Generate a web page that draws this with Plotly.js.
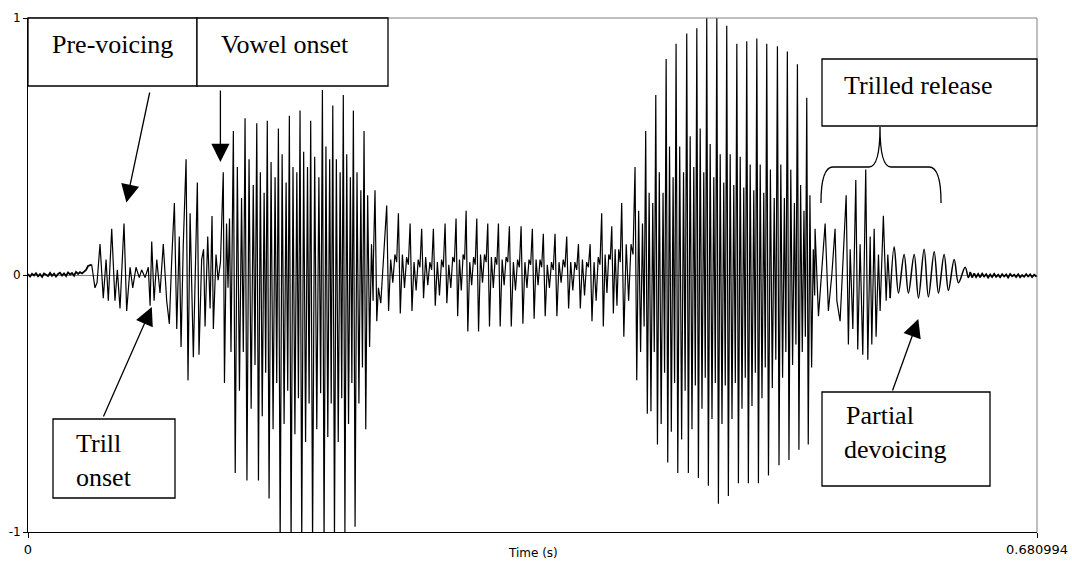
<!DOCTYPE html>
<html><head><meta charset="utf-8">
<script src="https://cdn.plot.ly/plotly-3.0.1.min.js"></script>
<style>html,body{margin:0;padding:0;background:#fff}#chart{width:1072px;height:563px}</style>
</head><body><div id="chart"></div>
<script>
// ---------- data (time in s, amplitude normalised) ----------
const xTickVals = [0, 0.680994];
const xTickText = ['0', '0.680994'];
const yTickVals = [-1, 0, 1];
const yTickText = ['-1', '0', '1'];

const noiseStartT = [0, 0.0014, 0.0027, 0.0041, 0.0054, 0.0068, 0.0081, 0.0095, 0.0108, 0.0122, 0.0135, 0.0149, 0.0162, 0.0176, 0.0189, 0.0203, 0.0216, 0.0230, 0.0243, 0.0257, 0.0270, 0.0284, 0.0297, 0.0311, 0.0324, 0.0338, 0.0351, 0.0365, 0.0378, 0.0392, 0.0405];
const noiseStartV = [0.004, -0.006, 0.005, -0.002, 0.007, -0.005, 0.003, -0.007, 0.006, 0.000, -0.004, 0.008, -0.003, 0.005, -0.006, 0.004, 0.009, -0.002, 0.006, -0.004, 0.010, 0.002, 0.008, -0.003, 0.012, 0.004, 0.011, 0.006, 0.014, 0.020, 0.035];

const onsetT = [0.0430, 0.0439, 0.0452, 0.0466, 0.0486, 0.0508, 0.0527, 0.0542, 0.0565, 0.0587, 0.0603, 0.0621, 0.0648, 0.0666, 0.0689, 0.0707, 0.0729, 0.0751, 0.0767, 0.0790, 0.0812, 0.0824, 0.0835, 0.0851, 0.0869, 0.0891, 0.0913, 0.0936, 0.0954, 0.0970, 0.0988, 0.1004, 0.1021, 0.1033, 0.1048, 0.1067, 0.1080, 0.1094, 0.1116, 0.1143, 0.1154, 0.1172, 0.1185, 0.1195, 0.1213, 0.1229, 0.1242, 0.1251, 0.1269, 0.1283, 0.1299, 0.1318, 0.1326, 0.1340, 0.1350, 0.1360, 0.1370];
const onsetV = [0.04, 0.00, -0.05, -0.03, 0.12, -0.09, 0.06, -0.10, 0.18, -0.10, 0.02, -0.13, 0.20, -0.14, 0.03, -0.05, 0.03, -0.01, 0.02, -0.01, 0.03, -0.12, 0.13, -0.10, 0.06, -0.07, 0.12, -0.10, -0.19, 0.06, 0.28, -0.21, 0.15, -0.28, 0.12, 0.45, -0.41, 0.24, -0.32, 0.36, -0.31, 0.06, 0.10, -0.20, 0.15, -0.13, 0.23, -0.21, 0.08, -0.02, 0.05, 0.40, -0.42, 0.20, -0.05, 0.22, -0.30];

// first vowel: one entry per glottal cycle
const vowel1T        = [0.1386, 0.1465, 0.1544, 0.1615, 0.1690, 0.1764, 0.1836, 0.1908, 0.1987, 0.2057, 0.2128, 0.2196, 0.2268];
const vowel1Peak     = [0.56, 0.61, 0.59, 0.60, 0.57, 0.62, 0.64, 0.60, 0.72, 0.66, 0.70, 0.64, 0.56];
const vowel1Trough   = [-0.77, -0.80, -0.80, -0.87, -1.05, -1.05, -1.05, -1.05, -1.05, -1.03, -1.00, -0.98, -0.60];
const vowel1SecPeak  = [0.42, 0.45, 0.40, 0.44, 0.47, 0.42, 0.48, 0.46, 0.50, 0.45, 0.47, 0.40, 0.31];
const vowel1SecTrough= [-0.45, -0.52, -0.55, -0.60, -0.58, -0.62, -0.65, -0.60, -0.63, -0.65, -0.58, -0.50, -0.28];
const vowel1TerPeak  = [0.30, 0.35, 0.32, 0.38, 0.36, 0.40, 0.42, 0.38, 0.45, 0.40, 0.38, 0.33, 0.12];
const vowel1TerTrough= [-0.30, -0.35, -0.38, -0.42, -0.45, -0.48, -0.50, -0.46, -0.50, -0.48, -0.42, -0.36, -0.10];

const transT = [0.2331, 0.2342, 0.2354, 0.2365, 0.2381, 0.2398];
const transV = [0.05, 0.33, -0.18, -0.05, -0.11, 0.05];

// middle trill + second vowel, one entry per cycle
const midT = [0.2421, 0.2500, 0.2579, 0.2657, 0.2736, 0.2815, 0.2889, 0.2957, 0.3029, 0.3103, 0.3175, 0.3249, 0.3328, 0.3404, 0.3478, 0.3557, 0.3636, 0.3715, 0.3794, 0.3872, 0.3940, 0.4007, 0.4097, 0.4169, 0.4237, 0.4307, 0.4374, 0.4446, 0.4514, 0.4581, 0.4649, 0.4716, 0.4784, 0.4851, 0.4919, 0.4986, 0.5058, 0.5125, 0.5193, 0.5256];
const midPeak = [0.27, 0.24, 0.20, 0.18, 0.18, 0.20, 0.22, 0.25, 0.22, 0.20, 0.20, 0.19, 0.19, 0.18, 0.16, 0.16, 0.15, 0.12, 0.12, 0.24, 0.19, 0.28, 0.42, 0.56, 0.70, 0.84, 0.90, 0.94, 0.96, 1.00, 1.00, 0.97, 0.90, 0.91, 0.92, 0.90, 0.89, 0.87, 0.82, 0.69];
const midTrough = [-0.14, -0.15, -0.14, -0.09, -0.12, -0.11, -0.16, -0.22, -0.22, -0.20, -0.20, -0.20, -0.19, -0.17, -0.16, -0.16, -0.13, -0.13, -0.18, -0.20, -0.15, -0.24, -0.41, -0.54, -0.66, -0.73, -0.77, -0.77, -0.79, -0.82, -0.89, -0.86, -0.81, -0.81, -0.81, -0.78, -0.74, -0.72, -0.68, -0.66];
const midSecPeak = [0.06, 0.08, 0.05, 0.07, 0.05, 0.04, 0.06, 0.05, 0.08, 0.07, 0.06, 0.05, 0.05, 0.06, 0.04, 0.05, 0.05, 0.06, 0.05, 0.08, 0.10, 0.12, 0.25, 0.32, 0.40, 0.50, 0.50, 0.54, 0.57, 0.51, 0.47, 0.47, 0.46, 0.43, 0.43, 0.41, 0.43, 0.41, 0.35, 0.31];
const midSecTrough = [-0.03, -0.05, -0.06, -0.04, -0.08, -0.05, -0.06, -0.04, -0.03, -0.05, -0.04, -0.06, -0.05, -0.04, -0.05, -0.03, -0.06, -0.08, -0.10, -0.07, -0.12, -0.10, -0.30, -0.53, -0.58, -0.61, -0.64, -0.60, -0.52, -0.56, -0.58, -0.56, -0.52, -0.51, -0.48, -0.44, -0.40, -0.35, -0.30, -0.36];
const midTerPeak = [0.08, 0.07, 0.06, 0.05, 0.06, 0.07, 0.08, 0.07, 0.08, 0.07, 0.07, 0.06, 0.06, 0.06, 0.05, 0.06, 0.05, 0.05, 0.07, 0.08, 0.10, 0.12, 0.20, 0.28, 0.32, 0.38, 0.40, 0.42, 0.40, 0.38, 0.36, 0.35, 0.34, 0.33, 0.32, 0.30, 0.30, 0.28, 0.25, 0.10];
const midTerTrough = [0.05, 0.04, 0.03, 0.02, 0.03, 0.05, 0.06, 0.04, 0.05, 0.04, 0.05, 0.03, 0.04, 0.03, 0.02, 0.03, 0.02, 0.03, 0.04, 0.06, 0.05, 0.08, -0.20, -0.30, -0.38, -0.42, -0.45, -0.43, -0.40, -0.42, -0.43, -0.42, -0.40, -0.38, -0.36, -0.33, -0.30, -0.27, -0.24, -0.08];

const releaseT = [0.5312, 0.5335, 0.5357, 0.5380, 0.5402, 0.5425, 0.5447, 0.5459, 0.5481, 0.5503, 0.5522, 0.5537, 0.5549, 0.5567, 0.5587, 0.5600, 0.5616, 0.5634, 0.5654, 0.5668, 0.5684, 0.5695, 0.5711, 0.5724, 0.5740, 0.5751, 0.5773, 0.5792, 0.5803, 0.5819];
const releaseV = [0.18, -0.16, 0.01, 0.20, -0.14, 0.00, 0.18, -0.10, -0.18, 0.11, 0.31, -0.27, 0.10, -0.21, 0.37, -0.29, 0.12, -0.31, 0.41, -0.33, 0.15, -0.27, 0.18, -0.24, 0.08, -0.14, 0.23, -0.10, 0.08, -0.09];

const decayT = [0.5846, 0.5875, 0.5913, 0.5942, 0.5981, 0.6010, 0.6048, 0.6077, 0.6116, 0.6145, 0.6183, 0.6212, 0.6251, 0.6280, 0.6325, 0.6347];
const decayV = [0.11, -0.07, 0.08, -0.07, 0.08, -0.09, 0.10, -0.085, 0.09, -0.07, 0.08, -0.06, 0.06, -0.03, 0.03, -0.01];

const noiseEndT = [0.6359, 0.6372, 0.6386, 0.6399, 0.6413, 0.6426, 0.6440, 0.6453, 0.6467, 0.6480, 0.6494, 0.6507, 0.6521, 0.6534, 0.6548, 0.6561, 0.6575, 0.6588, 0.6602, 0.6615, 0.6629, 0.6642, 0.6656, 0.6669, 0.6683, 0.6696, 0.6710, 0.6723, 0.6737, 0.6750, 0.6764, 0.6777, 0.6791, 0.6804, 0.6810];
const noiseEndV = [0.012, -0.010, 0.006, -0.008, 0.004, -0.009, 0.005, -0.006, 0.003, -0.010, 0.002, -0.008, 0.004, -0.007, 0.001, -0.009, 0.003, -0.006, 0.002, -0.010, 0.004, -0.005, 0.001, -0.008, 0.003, -0.009, 0.000, -0.007, 0.003, -0.006, 0.002, -0.008, 0.001, -0.005, -0.002];

// ---------- build line ----------
const CYCLE_FRAC = [0, 0.16, 0.34, 0.52, 0.70, 0.85];
function addPairs(X, Y, t, v) { for (let i = 0; i < t.length; i++) { X.push(t[i]); Y.push(v[i]); } }
function addCycles(X, Y, t, series) {
  for (let i = 0; i < t.length; i++) {
    const P = i < t.length - 1 ? t[i + 1] - t[i] : t[i] - t[i - 1];
    for (let k = 0; k < series.length; k++) { X.push(t[i] + CYCLE_FRAC[k] * P); Y.push(series[k][i]); }
  }
}
const X = [], Y = [];
addPairs(X, Y, onsetT, onsetV);
addCycles(X, Y, vowel1T, [vowel1Peak, vowel1Trough, vowel1SecPeak, vowel1SecTrough, vowel1TerPeak, vowel1TerTrough]);
addPairs(X, Y, transT, transV);
addCycles(X, Y, midT, [midPeak, midTrough, midSecPeak, midSecTrough, midTerPeak, midTerTrough]);
addPairs(X, Y, releaseT, releaseV);

const NX = noiseStartT.slice(), NY = noiseStartV.slice();
NX.push(onsetT[0]); NY.push(onsetV[0]);

const DX = [releaseT[releaseT.length - 1]], DY = [releaseV[releaseV.length - 1]];
addPairs(DX, DY, decayT, decayV);
DX.push(noiseEndT[0]); DY.push(noiseEndV[0]);

const traces = [
  {x: NX, y: NY, type: 'scatter', mode: 'lines', line: {color: '#000', width: 1.8}, hoverinfo: 'skip'},
  {x: X, y: Y, type: 'scatter', mode: 'lines', line: {color: '#000', width: 1.2}, hoverinfo: 'skip'},
  {x: DX, y: DY, type: 'scatter', mode: 'lines', line: {color: '#000', width: 1.5, shape: 'spline', smoothing: 1}, hoverinfo: 'skip'},
  {x: noiseEndT, y: noiseEndV, type: 'scatter', mode: 'lines', line: {color: '#000', width: 1.8}, hoverinfo: 'skip'}
];

// ---------- layout helpers (pixel -> paper) ----------
const L = 28, R = 1037, T = 18, B = 532;
const px = v => (v - L) / (R - L);
const py = v => (B - v) / (B - T);
const serif = {family: 'Liberation Serif, Times New Roman, serif', size: 26, color: '#000'};

function box(x0, y0, x1, y1) {
  return {type: 'rect', xref: 'paper', yref: 'paper', x0: px(x0), x1: px(x1), y0: py(y1), y1: py(y0),
    line: {color: '#000', width: 1.3}, fillcolor: '#fff', layer: 'above'};
}
function label(text, x, y, anchor) {
  return {text: text, xref: 'paper', yref: 'paper', x: px(x), y: py(y), xanchor: anchor || 'left', yanchor: 'middle',
    showarrow: false, font: serif};
}
function arrow(tailX, tailY, tipX, tipY) {
  return {text: '', xref: 'paper', yref: 'paper', x: px(tipX), y: py(tipY), ax: tailX - tipX, ay: tailY - tipY,
    axref: 'pixel', ayref: 'pixel', showarrow: true, arrowhead: 2, arrowsize: 2.8, arrowwidth: 1.3, arrowcolor: '#000', standoff: 0};
}
const Pp = (x, y) => px(x).toFixed(4) + ',' + py(y).toFixed(4);
const bracePath = 'M' + Pp(821, 203) + ' Q' + Pp(821, 167) + ' ' + Pp(833, 167) + ' L' + Pp(869, 167) +
  ' Q' + Pp(880, 167) + ' ' + Pp(880, 127) + ' Q' + Pp(880, 167) + ' ' + Pp(891, 167) + ' L' + Pp(929, 167) +
  ' Q' + Pp(941, 167) + ' ' + Pp(941, 203);

const layout = {
  width: 1072, height: 563,
  margin: {l: L, r: 1072 - R, t: T, b: 563 - B, pad: 0},
  paper_bgcolor: '#fff', plot_bgcolor: '#fff',
  showlegend: false,
  xaxis: {range: [0, 0.680994], tickvals: xTickVals, ticktext: xTickText, showgrid: false, zeroline: false,
    showline: true, linecolor: '#000', linewidth: 1, ticks: 'outside', ticklen: 5, tickcolor: '#000',
    tickfont: {family: 'DejaVu Sans, Arial, sans-serif', size: 13, color: '#000'}, automargin: false},
  yaxis: {range: [-1, 1], tickvals: yTickVals, ticktext: yTickText, showgrid: false, zeroline: true,
    zerolinecolor: '#808080', zerolinewidth: 1,
    showline: true, linecolor: '#000', linewidth: 1, ticks: 'outside', ticklen: 4, tickcolor: '#000',
    tickfont: {family: 'DejaVu Sans, Arial, sans-serif', size: 12, color: '#000'}, automargin: false},
  shapes: [
    {type: 'line', xref: 'paper', yref: 'paper', x0: 0, x1: 1, y0: 1, y1: 1, line: {color: '#808080', width: 1}},
    {type: 'line', xref: 'paper', yref: 'paper', x0: 1, x1: 1, y0: 0, y1: 1, line: {color: '#808080', width: 1}},
    box(28, 18, 197, 86),
    box(197, 18, 388, 86),
    box(53, 419, 175, 498),
    box(822, 59, 1037, 126),
    box(822, 392, 990, 486),
    {type: 'path', xref: 'paper', yref: 'paper', path: bracePath, line: {color: '#000', width: 1.3}, layer: 'above'}
  ],
  annotations: [
    label('Pre-voicing', 112, 44, 'center'),
    label('Vowel onset', 285, 44, 'center'),
    label('Trill', 74, 444),
    label('onset', 74, 477),
    label('Trilled release', 842, 86),
    label('Partial', 844, 415),
    label('devoicing', 842, 449),
    {text: 'Time (s)', xref: 'paper', yref: 'paper', x: 0.5, y: py(553), xanchor: 'center', yanchor: 'middle', showarrow: false,
      font: {family: 'DejaVu Sans, Arial, sans-serif', size: 12, color: '#000'}},
    arrow(150, 91, 126.4, 202.6),
    arrow(220.4, 89, 220.4, 162),
    arrow(102.8, 418, 151.8, 307),
    arrow(892, 392, 918.3, 319)
  ]
};
Plotly.newPlot('chart', traces, layout, {staticPlot: true, displayModeBar: false});
</script></body></html>
